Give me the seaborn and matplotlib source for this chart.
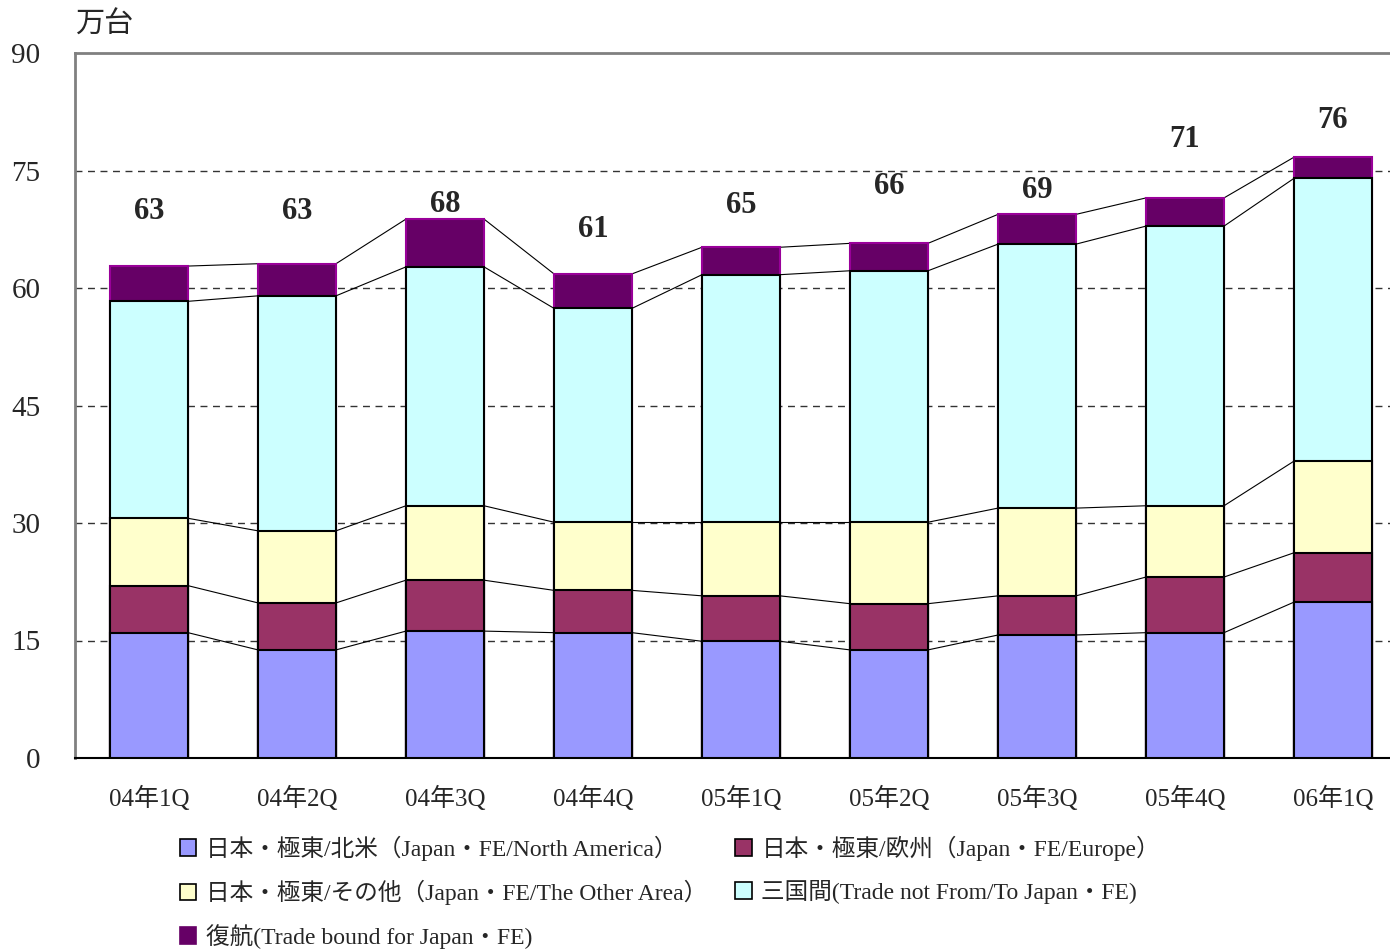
import numpy as np
import pandas as pd
import matplotlib
matplotlib.use("Agg")
import matplotlib.pyplot as plt
import seaborn as sns
from matplotlib.patches import Patch

categories = ["04年1Q", "04年2Q", "04年3Q", "04年4Q", "05年1Q", "05年2Q", "05年3Q", "05年4Q", "06年1Q"]
north_america = [16.0, 13.8, 16.2, 16.0, 14.9, 13.8, 15.7, 16.0, 19.9]
europe = [6.0, 6.0, 6.5, 5.4, 5.8, 5.9, 5.0, 7.1, 6.3]
other_area = [8.6, 9.2, 9.5, 8.7, 9.4, 10.4, 11.2, 9.1, 11.7]
cross_trade = [27.7, 30.0, 30.5, 27.3, 31.6, 32.1, 33.7, 35.7, 36.1]
backhaul = [4.5, 4.1, 6.1, 4.4, 3.5, 3.5, 3.8, 3.6, 2.7]
total_labels = ["63", "63", "68", "61", "65", "66", "69", "71", "76"]
label_heights = [69.8, 69.8, 70.7, 67.5, 70.5, 73.0, 72.4, 78.9, 81.4]
y_ticks = [0, 15, 30, 45, 60, 75, 90]

series_names = [
    "日本・極東/北米（Japan・FE/North America）",
    "日本・極東/欧州（Japan・FE/Europe）",
    "日本・極東/その他（Japan・FE/The Other Area）",
    "三国間(Trade not From/To Japan・FE)",
    "復航(Trade bound for Japan・FE)",
]
series_values = [north_america, europe, other_area, cross_trade, backhaul]
colors = ["#9999FF", "#993366", "#FFFFCC", "#CCFFFF", "#660066"]
edge_colors = ["black", "black", "black", "black", "#990099"]

sns.set_theme(style="white")
plt.rcParams["font.family"] = ["Liberation Serif", "Noto Sans CJK JP"]

fig = plt.figure(figsize=(13.9, 9.5), dpi=100)
ax = fig.add_axes([75 / 1390, 192 / 950, 1332 / 1390, 705 / 950])

cum = np.cumsum(np.array(series_values), axis=0)
bar_w = 0.527

# draw cumulative bars from the tallest down so each shorter one covers the taller
for i in range(len(series_values) - 1, -1, -1):
    df = pd.DataFrame({"cat": categories, "val": cum[i]})
    sns.barplot(data=df, x="cat", y="val", order=categories, color=colors[i],
                saturation=1, width=bar_w, edgecolor=edge_colors[i],
                linewidth=1.5, ax=ax, errorbar=None, zorder=3)

# connector lines
n = len(categories)
for i in range(len(series_values)):
    for j in range(n - 1):
        ax.plot([j + bar_w / 2, j + 1 - bar_w / 2], [cum[i][j], cum[i][j + 1]],
                color="black", linewidth=0.8, zorder=2)

# total labels
for j in range(n):
    ax.text(j, label_heights[j], total_labels[j], ha="center", va="center",
            fontsize=22, fontweight="bold", family="Liberation Serif", zorder=4)

ax.set_xlim(-0.5, n - 0.5)
ax.set_ylim(0, 90)
ax.set_yticks(y_ticks)
ax.set_yticklabels([str(v) for v in y_ticks], fontsize=21)
ax.tick_params(axis="y", length=0, pad=25)
ax.tick_params(axis="x", which="major", length=0, pad=20, labelsize=18)
ax.set_xticks(np.arange(n - 1) + 0.5, minor=True)
ax.tick_params(axis="x", which="minor", direction="in", length=8, width=1, color="black")
ax.set_xlabel("")
ax.set_ylabel("")

for v in y_ticks[1:-1]:
    ax.axhline(v, color="#333333", linewidth=1, linestyle=(0, (5, 4)), zorder=1)

for s in ["left", "top", "right"]:
    ax.spines[s].set_color("#808080")
    ax.spines[s].set_linewidth(2)
ax.spines["bottom"].set_color("black")
ax.spines["bottom"].set_linewidth(1.5)

fig.text(75 / 1390, 1 - 25 / 950, "万台", fontsize=21, ha="left", va="center")

handles = [Patch(facecolor=colors[i], edgecolor="black" if i < 4 else colors[i], linewidth=1.2,
                 label=series_names[i]) for i in range(5)]
order = [0, 2, 4, 1, 3]
fig.legend([handles[i] for i in order], [series_names[i] for i in order],
           loc="upper left", bbox_to_anchor=(168 / 1390, 1 - 824 / 950), ncol=2,
           frameon=False, fontsize=17, handlelength=0.7, handleheight=0.7,
           handletextpad=0.4, columnspacing=1.2, labelspacing=0.8, borderpad=0)

fig.savefig("out.png", dpi=100)
